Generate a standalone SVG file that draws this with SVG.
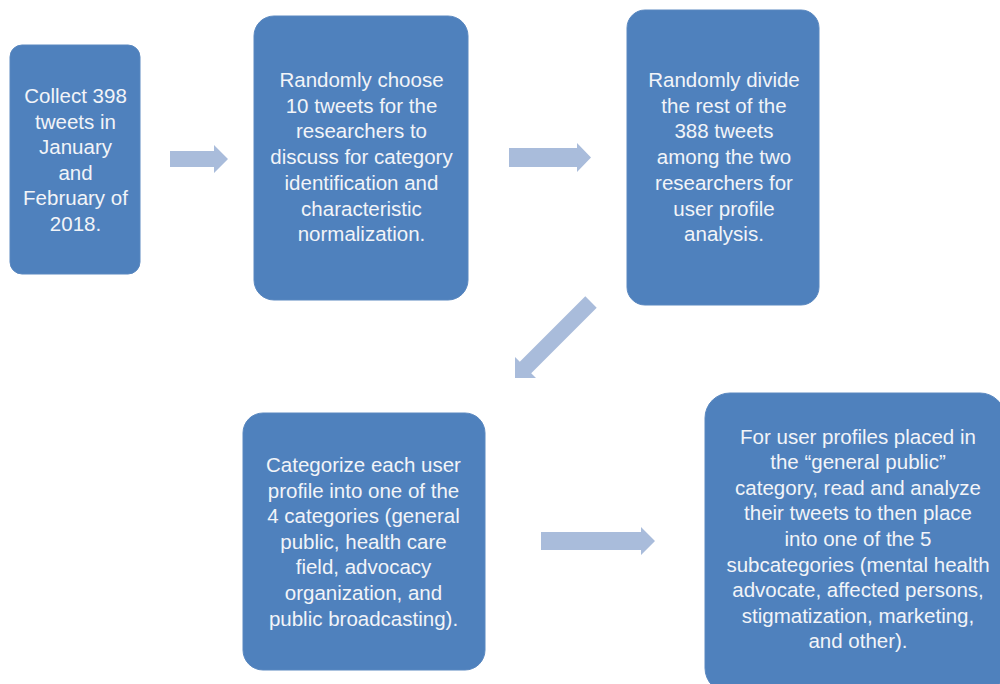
<svg xmlns="http://www.w3.org/2000/svg" width="1000" height="684" viewBox="0 0 1000 684">
<style>
.box{fill:#4F81BD;stroke:#5A88C0;stroke-width:1}
.t{font-family:"Liberation Sans",Arial,sans-serif;font-size:20.5px;fill:#F2F4F8;text-anchor:middle}
.arr{fill:#A9BCDB}
</style>
<rect width="1000" height="684" fill="#FFFFFF"/>
<g id="connectors">
<polygon class="arr" points="170,151 214,151 214,145 228,159 214,173 214,167 170,167"/>
<polygon class="arr" points="509,148 577,148 577,143 591,157.5 577,172 577,167 509,167"/>
<polygon class="arr" points="585.3,296.3 596.7,307.7 531.2,373.2 536,378 515,378 515,357 519.8,361.8"/>
<polygon class="arr" points="541,532 641,532 641,527 655,541 641,555 641,550 541,550"/>
</g>
<g id="node1">
<rect class="box" x="10" y="45" width="130" height="229" rx="12"/>
<text class="t"><tspan x="75.5" y="103">Collect 398</tspan><tspan x="75.5" y="128.6">tweets in</tspan><tspan x="75.5" y="154.2">January</tspan><tspan x="75.5" y="179.8">and</tspan><tspan x="75.5" y="205.4">February of</tspan><tspan x="75.5" y="231">2018.</tspan></text>
</g>
<g id="node2">
<rect class="box" x="254" y="16" width="214" height="284" rx="20"/>
<text class="t"><tspan x="361.5" y="87">Randomly choose</tspan><tspan x="361.5" y="112.7">10 tweets for the</tspan><tspan x="361.5" y="138.4">researchers to</tspan><tspan x="361.5" y="164.1">discuss for category</tspan><tspan x="361.5" y="189.8">identification and</tspan><tspan x="361.5" y="215.5">characteristic</tspan><tspan x="361.5" y="241.2">normalization.</tspan></text>
</g>
<g id="node3">
<rect class="box" x="627" y="10" width="192" height="295" rx="18"/>
<text class="t"><tspan x="724" y="87">Randomly divide</tspan><tspan x="724" y="112.7">the rest of the</tspan><tspan x="724" y="138.4">388 tweets</tspan><tspan x="724" y="164.1">among the two</tspan><tspan x="724" y="189.8">researchers for</tspan><tspan x="724" y="215.5">user profile</tspan><tspan x="724" y="241.2">analysis.</tspan></text>
</g>
<g id="node4">
<rect class="box" x="243" y="413" width="242" height="257" rx="20"/>
<text class="t"><tspan x="363.5" y="472">Categorize each user</tspan><tspan x="363.5" y="497.6">profile into one of the</tspan><tspan x="363.5" y="523.2">4 categories (general</tspan><tspan x="363.5" y="548.8">public, health care</tspan><tspan x="363.5" y="574.4">field, advocacy</tspan><tspan x="363.5" y="600">organization, and</tspan><tspan x="363.5" y="625.6">public broadcasting).</tspan></text>
</g>
<g id="node5">
<rect class="box" x="705" y="393" width="300" height="300" rx="25"/>
<text class="t"><tspan x="858" y="443.5">For user profiles placed in</tspan><tspan x="858" y="469.1">the “general public”</tspan><tspan x="858" y="494.7">category, read and analyze</tspan><tspan x="858" y="520.3">their tweets to then place</tspan><tspan x="858" y="545.9">into one of the 5</tspan><tspan x="858" y="571.5">subcategories (mental health</tspan><tspan x="858" y="597.1">advocate, affected persons,</tspan><tspan x="858" y="622.7">stigmatization, marketing,</tspan><tspan x="858" y="648.3">and other).</tspan></text>
</g>
</svg>
